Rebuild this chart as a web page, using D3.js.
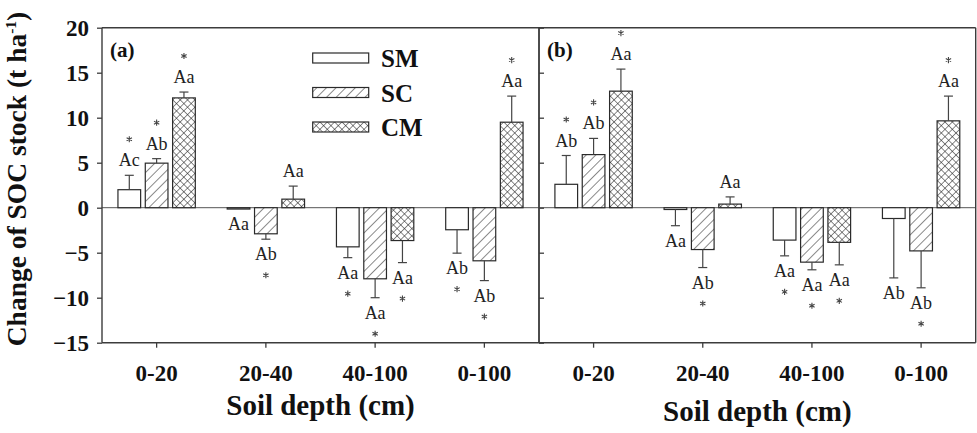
<!DOCTYPE html>
<html>
<head>
<meta charset="utf-8">
<script src="https://cdn.jsdelivr.net/npm/d3@7/dist/d3.min.js"></script>
<style>
  html, body { margin: 0; padding: 0; background: #fff; }
  svg { display: block; }
  text { font-family: "Liberation Serif", "Times New Roman", serif; }
</style>
</head>
<body>
<svg id="chart" width="977" height="433"></svg>
<script>
// Soil depth classes and treatments
const depths = ["0-20", "20-40", "40-100", "0-100"];
const treatments = ["SM", "SC", "CM"];
const yTicks = [-15, -10, -5, 0, 5, 10, 15, 20];

// Panel (a): change of SOC stock (t ha-1) and standard errors
const smA = [2.0, -0.15, -4.35, -2.45];
const scA = [4.95, -2.9, -7.9, -5.9];
const cmA = [12.2, 0.95, -3.65, 9.5];
const smErrA = [1.6, 0, 1.2, 2.6];
const scErrA = [0.5, 0.6, 2.1, 2.2];
const cmErrA = [0.65, 1.45, 2.45, 2.9];
const smLetA = ["Ac", "Aa", "Aa", "Ab"];
const scLetA = ["Ab", "Ab", "Aa", "Ab"];
const cmLetA = ["Aa", "Aa", "Aa", "Aa"];
const smStarA = [1, 0, 1, 1];
const scStarA = [1, 1, 1, 1];
const cmStarA = [1, 0, 1, 1];

// Panel (b)
const smB = [2.6, -0.2, -3.6, -1.2];
const scB = [5.9, -4.65, -6.05, -4.8];
const cmB = [12.95, 0.4, -3.85, 9.65];
const smErrB = [3.2, 1.8, 1.75, 6.6];
const scErrB = [1.8, 2.0, 0.85, 4.1];
const cmErrB = [2.45, 0.8, 2.5, 2.75];
const smLetB = ["Ab", "Aa", "Aa", "Ab"];
const scLetB = ["Ab", "Ab", "Aa", "Ab"];
const cmLetB = ["Aa", "Aa", "Aa", "Aa"];
const smStarB = [1, 0, 1, 0];
const scStarB = [1, 1, 1, 1];
const cmStarB = [1, 0, 1, 1];

function buildRows(vals, errs, lets, stars) {
  const rows = [];
  depths.forEach((d, i) => {
    treatments.forEach((t, k) => {
      rows.push({ depth: d, trt: t, value: vals[k][i], err: errs[k][i], letter: lets[k][i], star: stars[k][i] });
    });
  });
  return rows;
}

const panels = [
  { tag: "(a)", x0: 102, x1: 539, yLabels: true, legend: true, titleY: 415,
    rows: buildRows([smA, scA, cmA], [smErrA, scErrA, cmErrA], [smLetA, scLetA, cmLetA], [smStarA, scStarA, cmStarA]) },
  { tag: "(b)", x0: 539, x1: 975.7, yLabels: false, legend: false, titleY: 421,
    rows: buildRows([smB, scB, cmB], [smErrB, scErrB, cmErrB], [smLetB, scLetB, cmLetB], [smStarB, scStarB, cmStarB]) }
];

const svg = d3.select("#chart");
const plotTop = 27.7, plotBottom = 342.7;
const ink = "#2a2a2a";
const frameInk = "#3c3c3c";

// hatch patterns for SC and CM
const defs = svg.append("defs");
const diag = defs.append("pattern").attr("id", "hatch-sc")
  .attr("patternUnits", "userSpaceOnUse").attr("width", 6.8).attr("height", 6.8)
  .attr("patternTransform", "rotate(45)");
diag.append("rect").attr("width", 6.8).attr("height", 6.8).attr("fill", "#fff");
diag.append("line").attr("x1", 0).attr("y1", 0).attr("x2", 0).attr("y2", 6.8)
  .attr("stroke", ink).attr("stroke-width", 1.1);
const cross = defs.append("pattern").attr("id", "hatch-cm")
  .attr("patternUnits", "userSpaceOnUse").attr("width", 5.2).attr("height", 5.2)
  .attr("patternTransform", "rotate(45)");
cross.append("rect").attr("width", 5.2).attr("height", 5.2).attr("fill", "#fff");
cross.append("line").attr("x1", 0).attr("y1", 0).attr("x2", 0).attr("y2", 5.2)
  .attr("stroke", ink).attr("stroke-width", 1.1);
cross.append("line").attr("x1", 0).attr("y1", 0).attr("x2", 5.2).attr("y2", 0)
  .attr("stroke", ink).attr("stroke-width", 1.1);

const fillOf = { SM: "#fff", SC: "url(#hatch-sc)", CM: "url(#hatch-cm)" };

const y = d3.scaleLinear().domain([-15, 20]).range([plotBottom, plotTop]);
const starPath = d3.symbol(d3.symbolAsterisk, 26)();

panels.forEach(p => {
  const g = svg.append("g");
  const x = d3.scaleBand().domain(depths).range([p.x0, p.x1]).padding(0);
  const bw = x.bandwidth();
  const groupW = 82;
  const xi = d3.scaleBand().domain(treatments)
    .range([(bw - groupW) / 2, (bw + groupW) / 2]).paddingInner(0.17).paddingOuter(0.085);

  // zero line
  g.append("line").attr("x1", p.x0).attr("x2", p.x1).attr("y1", y(0)).attr("y2", y(0))
    .attr("stroke", "#555").attr("stroke-width", 1);

  // bars
  g.selectAll("rect.bar").data(p.rows).join("rect").attr("class", "bar")
    .attr("x", d => x(d.depth) + xi(d.trt))
    .attr("width", xi.bandwidth())
    .attr("y", d => Math.min(y(d.value), y(0)))
    .attr("height", d => Math.abs(y(d.value) - y(0)))
    .attr("fill", d => fillOf[d.trt])
    .attr("stroke", ink).attr("stroke-width", 1.2);

  // one-sided error bars
  const withErr = p.rows.filter(d => d.err > 0);
  const errEnd = d => d.value >= 0 ? d.value + d.err : d.value - d.err;
  const cx = d => x(d.depth) + xi(d.trt) + xi.bandwidth() / 2;
  g.selectAll("line.err").data(withErr).join("line").attr("class", "err")
    .attr("x1", cx).attr("x2", cx)
    .attr("y1", d => y(d.value)).attr("y2", d => y(errEnd(d)))
    .attr("stroke", "#444").attr("stroke-width", 1.2);
  g.selectAll("line.cap").data(withErr).join("line").attr("class", "cap")
    .attr("x1", d => cx(d) - 4.5).attr("x2", d => cx(d) + 4.5)
    .attr("y1", d => y(errEnd(d))).attr("y2", d => y(errEnd(d)))
    .attr("stroke", "#444").attr("stroke-width", 1.2);

  // significance letters and asterisks
  const dir = d => d.value >= 0 ? -1 : 1;
  g.selectAll("text.let").data(p.rows).join("text").attr("class", "let")
    .attr("x", cx)
    .attr("y", d => y(errEnd(d)) + dir(d) * 15 + 6)
    .attr("text-anchor", "middle")
    .attr("font-size", 18).attr("fill", "#222")
    .text(d => d.letter);
  g.selectAll("path.star").data(p.rows.filter(d => d.star)).join("path").attr("class", "star")
    .attr("transform", d => `translate(${cx(d)},${y(errEnd(d)) + dir(d) * 36})`)
    .attr("d", starPath)
    .attr("fill", "none").attr("stroke", "#444").attr("stroke-width", 1.1);

  // frame
  const frame = g.append("g").attr("fill", "none").attr("stroke", frameInk).attr("stroke-width", 1.4);
  frame.append("line").attr("x1", p.x0).attr("x2", p.x1).attr("y1", plotTop).attr("y2", plotTop);
  frame.append("line").attr("x1", p.x0).attr("x2", p.x1).attr("y1", plotBottom).attr("y2", plotBottom);
  frame.append("line").attr("x1", p.x0).attr("x2", p.x0).attr("y1", plotTop).attr("y2", plotBottom);
  frame.append("line").attr("x1", p.x1).attr("x2", p.x1).attr("y1", plotTop).attr("y2", plotBottom);

  // y axis
  const yAxis = p.yLabels
    ? d3.axisLeft(y).tickValues(yTicks).tickSize(5).tickPadding(8).tickFormat(d3.format("d"))
    : d3.axisRight(y).tickValues(yTicks).tickSize(5).tickFormat("");
  const ya = g.append("g").attr("transform", `translate(${p.x0},0)`).call(yAxis);
  ya.select(".domain").remove();
  ya.selectAll(".tick line").attr("stroke", frameInk).attr("stroke-width", 1.3);
  ya.selectAll(".tick text").attr("font-family", "Liberation Serif").attr("font-weight", "bold")
    .attr("font-size", 23).attr("fill", "#111").attr("dy", "0.34em");

  // x axis
  const xa = g.append("g").attr("transform", `translate(0,${plotBottom})`)
    .call(d3.axisBottom(x).tickSize(5).tickPadding(17));
  xa.select(".domain").remove();
  xa.selectAll(".tick line").attr("stroke", frameInk).attr("stroke-width", 1.3);
  xa.selectAll(".tick text").attr("font-family", "Liberation Serif").attr("font-weight", "bold")
    .attr("font-size", 23).attr("fill", "#111");

  // x title
  g.append("text").attr("x", (p.x0 + p.x1) / 2).attr("y", p.titleY)
    .attr("text-anchor", "middle").attr("font-weight", "bold").attr("font-size", 29).attr("fill", "#111")
    .text("Soil depth (cm)");

  // panel tag
  g.append("text").attr("x", p.x0 + 8).attr("y", 57).attr("font-weight", "bold")
    .attr("font-size", 21).attr("fill", "#111").text(p.tag);

  if (p.legend) {
    const lg = g.append("g");
    const rowY = d3.scalePoint().domain(treatments).range([58, 127]);
    lg.selectAll("rect").data(treatments).join("rect")
      .attr("x", 312.7).attr("y", d => rowY(d) - 5).attr("width", 56).attr("height", 10)
      .attr("fill", d => fillOf[d]).attr("stroke", ink).attr("stroke-width", 1.2);
    lg.selectAll("text").data(treatments).join("text")
      .attr("x", 381).attr("y", d => rowY(d) + 9)
      .attr("font-weight", "bold").attr("font-size", 25).attr("fill", "#111")
      .text(d => d);
  }
});

// y title
const yt = svg.append("text")
  .attr("transform", "translate(26,179) rotate(-90)")
  .attr("text-anchor", "middle").attr("font-weight", "bold").attr("font-size", 27.5).attr("fill", "#111");
yt.append("tspan").text("Change of SOC stock (t ha");
yt.append("tspan").attr("font-size", 15.5).attr("dy", -10).text("-1");
yt.append("tspan").attr("dy", 10).text(")");
</script>
</body>
</html>
